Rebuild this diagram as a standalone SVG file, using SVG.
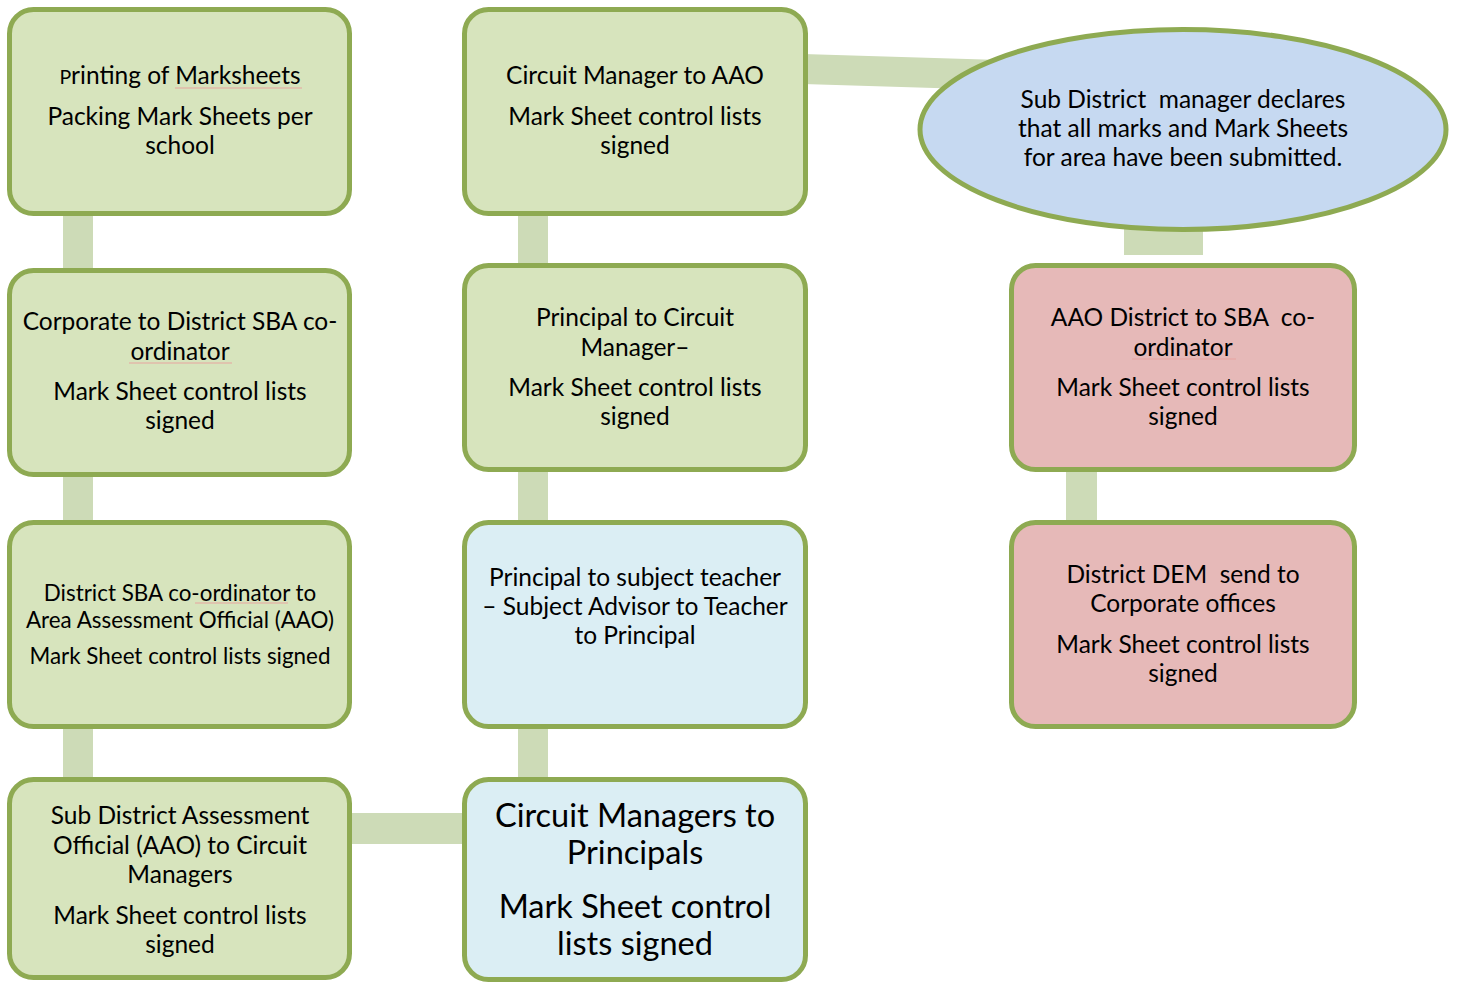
<svg xmlns="http://www.w3.org/2000/svg" width="1458" height="982" viewBox="0 0 1458 982">
<style>
.bar{fill:#CDDBB7}
.box{stroke:#8EAA52;stroke-width:5}
.g{fill:#D7E4BD}
.b{fill:#DBEEF4}
.p{fill:#E6B9B8}
.e{fill:#C6D9F1}
text{font-family:Lato,"Open Sans","Liberation Sans",sans-serif;font-size:24.5px;fill:#000;text-anchor:middle;white-space:pre}
.s22{font-size:22.4px}
.s32{font-size:32.5px}
.sq{stroke:#E8A4A0;stroke-width:1.2;fill:none}
</style>
<rect width="1458" height="982" fill="#fff"/>
<g id="connectors">
<rect class="bar" x="63" y="210" width="30" height="64"/>
<rect class="bar" x="63" y="470" width="30" height="56"/>
<rect class="bar" x="63" y="723" width="30" height="60"/>
<rect class="bar" x="518" y="210" width="30" height="60"/>
<rect class="bar" x="518" y="466" width="30" height="60"/>
<rect class="bar" x="518" y="723" width="30" height="60"/>
<rect class="bar" x="347" y="813" width="120" height="31"/>
<polygon class="bar" points="803,54 1000,60 1000,90 803,84"/>
<rect class="bar" x="1124" y="225" width="79" height="30"/>
<rect class="bar" x="1066" y="466" width="31" height="60"/>
</g>
<g id="n1">
<rect class="box g" x="9.5" y="9.5" width="340" height="204" rx="24"/>
<text x="180" y="84"><tspan font-size="19.5px">P</tspan>rinting of Marksheets</text>
<path class="sq" d="M175 88 h127"/>
<text x="180" y="125">Packing Mark Sheets per</text>
<text x="180" y="154">school</text>
</g>
<g id="n2">
<rect class="box g" x="9.5" y="270.5" width="340" height="204" rx="24"/>
<text x="180" y="330">Corporate to District SBA co-</text>
<text x="180" y="360">ordinator</text>
<path class="sq" d="M129 363 h103"/>
<text x="180" y="400">Mark Sheet control lists</text>
<text x="180" y="429">signed</text>
</g>
<g id="n3">
<rect class="box g" x="9.5" y="522.5" width="340" height="204" rx="24"/>
<text class="s22" x="180" y="601">District SBA co-ordinator to</text>
<path class="sq" d="M195 603 h93"/>
<text class="s22" x="180" y="628">Area Assessment Official (AAO)</text>
<text class="s22" x="180" y="664">Mark Sheet control lists signed</text>
</g>
<g id="n4">
<rect class="box g" x="9.5" y="779.5" width="340" height="198" rx="24"/>
<text x="180" y="824">Sub District Assessment</text>
<text x="180" y="854">Official (AAO) to Circuit</text>
<text x="180" y="883">Managers</text>
<text x="180" y="924">Mark Sheet control lists</text>
<text x="180" y="953">signed</text>
</g>
<g id="n5">
<rect class="box g" x="464.5" y="9.5" width="341" height="204" rx="24"/>
<text x="635" y="84">Circuit Manager to AAO</text>
<text x="635" y="125">Mark Sheet control lists</text>
<text x="635" y="154">signed</text>
</g>
<g id="n6">
<rect class="box g" x="464.5" y="265.5" width="341" height="204" rx="24"/>
<text x="635" y="326">Principal to Circuit</text>
<text x="635" y="356">Manager–</text>
<text x="635" y="396">Mark Sheet control lists</text>
<text x="635" y="425">signed</text>
</g>
<g id="n7">
<rect class="box b" x="464.5" y="522.5" width="341" height="204" rx="24"/>
<text x="635" y="586">Principal to subject teacher</text>
<text x="635" y="615">– Subject Advisor to Teacher</text>
<text x="635" y="644">to Principal</text>
</g>
<g id="n8">
<rect class="box b" x="464.5" y="779.5" width="341" height="200" rx="24"/>
<text class="s32" x="635" y="827">Circuit Managers to</text>
<text class="s32" x="635" y="864">Principals</text>
<text class="s32" x="635" y="918">Mark Sheet control</text>
<text class="s32" x="635" y="955">lists signed</text>
</g>
<g id="n9">
<ellipse class="box e" cx="1183" cy="129.5" rx="263" ry="100"/>
<text x="1183" y="108">Sub District  manager declares</text>
<text x="1183" y="137">that all marks and Mark Sheets</text>
<text x="1183" y="166">for area have been submitted.</text>
</g>
<g id="n10">
<rect class="box p" x="1011.5" y="265.5" width="343" height="204" rx="24"/>
<text x="1183" y="326">AAO District to SBA  co-</text>
<text x="1183" y="356">ordinator</text>
<path class="sq" d="M1132 359 h104"/>
<text x="1183" y="396">Mark Sheet control lists</text>
<text x="1183" y="425">signed</text>
</g>
<g id="n11">
<rect class="box p" x="1011.5" y="522.5" width="343" height="204" rx="24"/>
<text x="1183" y="583">District DEM  send to</text>
<text x="1183" y="612">Corporate offices</text>
<text x="1183" y="653">Mark Sheet control lists</text>
<text x="1183" y="682">signed</text>
</g>
</svg>
